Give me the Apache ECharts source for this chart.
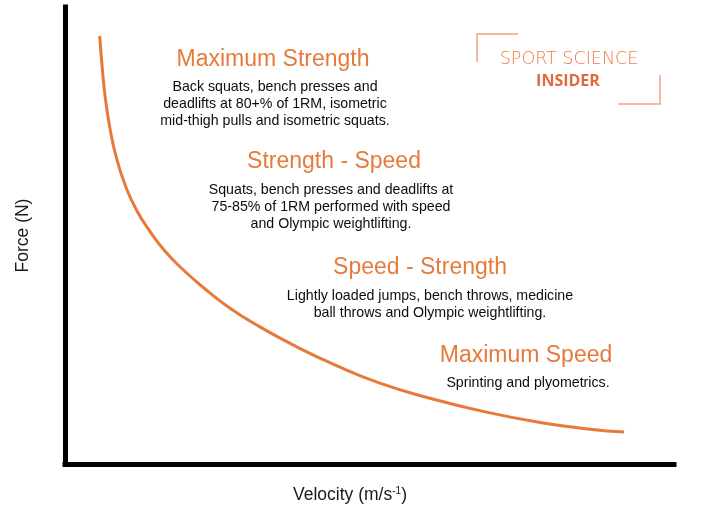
<!DOCTYPE html>
<html>
<head>
<meta charset="utf-8">
<script src="https://cdn.jsdelivr.net/npm/echarts@6/dist/echarts.min.js"></script>
<style>
  html, body { margin: 0; padding: 0; background: #fff; }
  #main { width: 701px; height: 509px; }
</style>
</head>
<body>
<div id="main"></div>
<script>
// force-velocity curve (0-100 on both axes)
var velocity = [5.7, 6.1, 6.6, 7.4, 8.5, 10.0, 11.8, 14.0, 16.4, 19.4, 23.0, 27.1, 32.0, 37.8, 44.3, 51.7, 59.9, 69.0, 78.0, 86.2, 91.8];
var force    = [93.7, 86.9, 80.3, 73.3, 66.7, 60.6, 55.4, 50.8, 46.6, 42.5, 38.3, 34.1, 30.0, 25.8, 21.7, 17.7, 14.4, 11.4, 9.1, 7.6, 7.0];

var zoneTitles = ['Maximum Strength', 'Strength - Speed', 'Speed - Strength', 'Maximum Speed'];
var zoneNotes = [
    'Back squats, bench presses and\ndeadlifts at 80+% of 1RM, isometric\nmid-thigh pulls and isometric squats.',
    'Squats, bench presses and deadlifts at\n75-85% of 1RM performed with speed\nand Olympic weightlifting.',
    'Lightly loaded jumps, bench throws, medicine\nball throws and Olympic weightlifting.',
    'Sprinting and plyometrics.'
];

var orange = '#E67A3B';
var chart = echarts.init(document.getElementById('main'));

// where each zone's heading / note sits (px)
var headAt = [[273, 60], [334, 162], [420, 268], [526, 356]];
var noteAt = [[275, 87], [331, 190], [430, 296], [528, 383]];

var graphics = [];
zoneTitles.forEach(function (t, i) {
    graphics.push({
        type: 'text',
        style: {
            text: t, x: headAt[i][0], y: headAt[i][1],
            align: 'center', verticalAlign: 'middle',
            fill: orange, fontSize: 23, fontFamily: 'Liberation Sans'
        }
    });
    graphics.push({
        type: 'text',
        style: {
            text: zoneNotes[i], x: noteAt[i][0], y: noteAt[i][1] - 8.5,
            align: 'center', verticalAlign: 'top',
            fill: '#0d0d0d', fontSize: 14.2, lineHeight: 17, fontFamily: 'Liberation Sans'
        }
    });
});

// logo
graphics.push(
    { type: 'polyline', shape: { points: [[518, 34], [477, 34], [477, 62]] },
      style: { stroke: '#F2A27F', lineWidth: 1.5, fill: null } },
    { type: 'polyline', shape: { points: [[660, 75], [660, 104], [618, 104]] },
      style: { stroke: '#F2A27F', lineWidth: 1.5, fill: null } },
    { type: 'text', style: { text: 'SPORT SCIENCE', x: 569, y: 59, align: 'center', verticalAlign: 'middle',
      fill: '#EE7A4C', fontSize: 17.5, fontFamily: 'DejaVu Sans', fontWeight: 300 } },
    { type: 'text', style: { text: 'INSIDER', x: 568, y: 81, align: 'center', verticalAlign: 'middle',
      fill: '#E06A3E', fontSize: 16, fontFamily: 'Open Sans', fontWeight: 700 } }
);

var option = {
    animation: false,
    backgroundColor: '#fff',
    grid: { left: 65, right: 27, top: 7, bottom: 44 },
    xAxis: {
        type: 'value', min: 0, max: 100,
        name: '{t|Velocity (m/s}{s|-1}{t|)}',
        nameLocation: 'middle', nameGap: 22,
        nameTextStyle: {
            padding: [0, 39, 0, 0],
            rich: {
                t: { fontSize: 17.5, fontFamily: 'Liberation Sans', color: '#1a1a1a' },
                s: { fontSize: 10, fontFamily: 'Liberation Sans', color: '#1a1a1a', verticalAlign: 'top', padding: [0, 0, 8, 0] }
            }
        },
        axisLine: { lineStyle: { color: '#000', width: 5, cap: 'square' } },
        axisTick: { show: false }, axisLabel: { show: false }, splitLine: { show: false }
    },
    yAxis: {
        type: 'value', min: 0, max: 100,
        name: 'Force (N)', nameLocation: 'middle', nameGap: 33, nameRotate: 90,
        nameTextStyle: { fontSize: 17.5, fontFamily: 'Liberation Sans', color: '#1a1a1a' },
        axisLine: { lineStyle: { color: '#000', width: 5, cap: 'square' } },
        axisTick: { show: false }, axisLabel: { show: false }, splitLine: { show: false }
    },
    series: [{
        type: 'line',
        smooth: true,
        showSymbol: false,
        data: velocity.map(function (v, i) { return [v, force[i]]; }),
        lineStyle: { color: orange, width: 3 }
    }],
    graphic: graphics
};

chart.setOption(option);
</script>
</body>
</html>
